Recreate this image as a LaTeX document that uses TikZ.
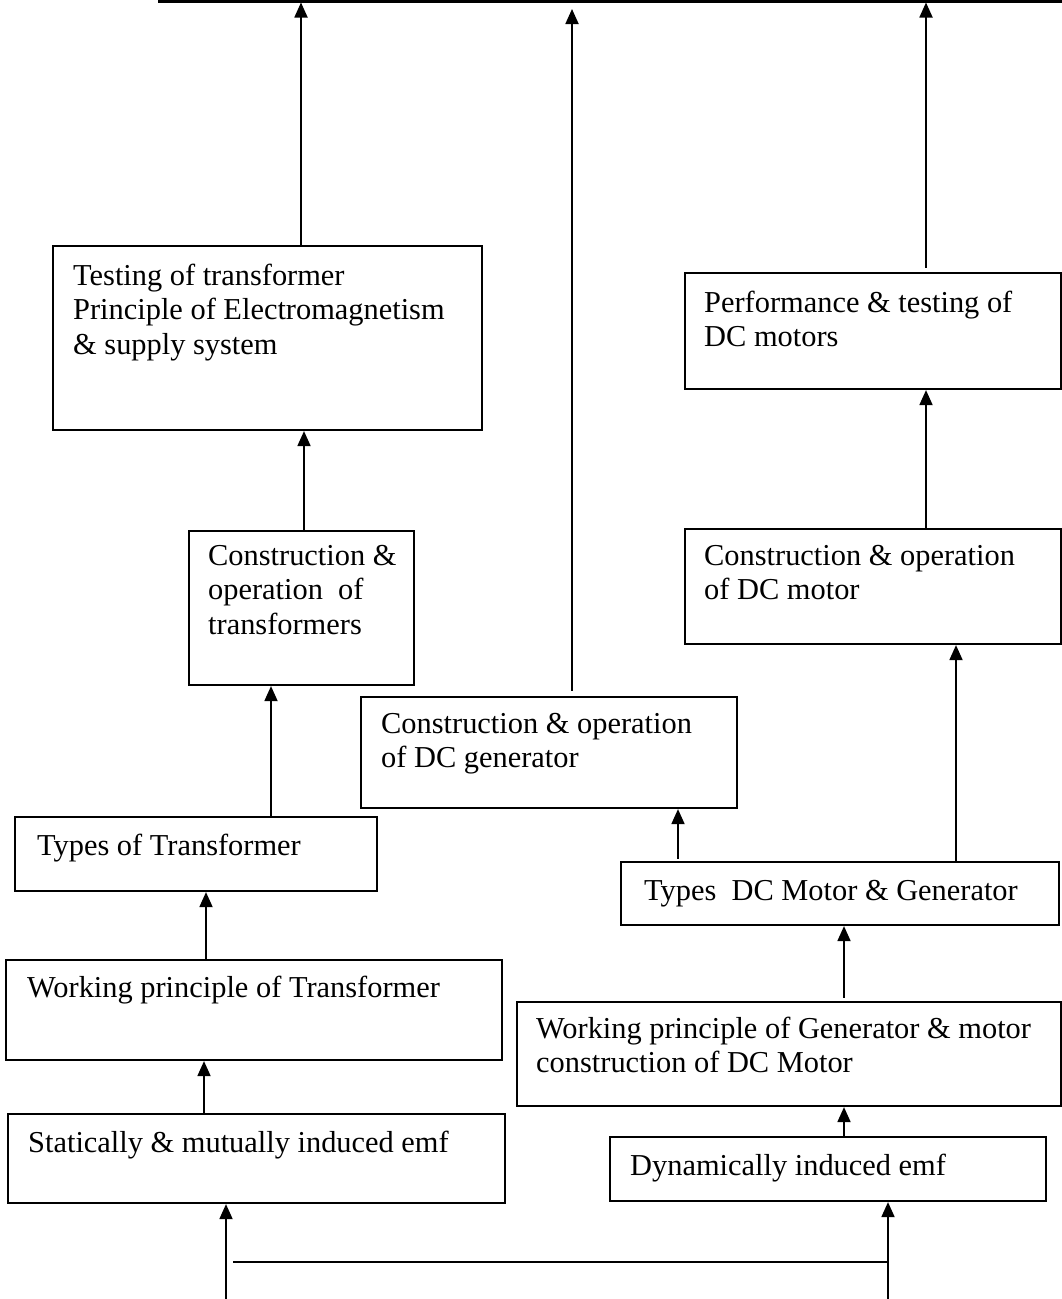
\documentclass[tikz,border=0pt]{standalone}
\usepackage{fontspec}
\setmainfont{Liberation Serif}
\usetikzlibrary{arrows.meta,calc,fit}
\newcommand{\boxlines}[1]{\parbox[t]{600pt}{\raggedright #1}}
\begin{document}
\begin{tikzpicture}[x=1pt,y=-1pt,
  box/.style={draw, line width=2.2pt, rectangle, inner sep=0pt},
  txt/.style={anchor=base west, inner sep=0pt, font=\fontsize{30.4}{34.5}\selectfont},
  arr/.style={line width=1.8pt, -{Triangle[length=15pt,width=13pt]}},
  ln/.style={line width=2.2pt}]
\useasboundingbox (0,0) rectangle (1062,1299);

% boxes
\node[box, fit={(53,246)(482,430)}] (test) {};
\node[txt] (testT) at (73,285) {\boxlines{Testing of transformer\\Principle of Electromagnetism\\\& supply system}};

\node[box, fit={(685,273)(1061,389)}] (perf) {};
\node[txt] (perfT) at (704,312) {\boxlines{Performance \& testing of\\DC motors}};

\node[box, fit={(189,531)(414,685)}] (ctrans) {};
\node[txt] (ctransT) at (208,565) {\boxlines{Construction \&\\operation\ \ of\\transformers}};

\node[box, fit={(685,529)(1061,644)}] (cmot) {};
\node[txt] (cmotT) at (704,565) {\boxlines{Construction \& operation\\of DC motor}};

\node[box, fit={(361,697)(737,808)}] (cgen) {};
\node[txt] (cgenT) at (381,733) {\boxlines{Construction \& operation\\of DC generator}};

\node[box, fit={(621,862)(1059,925)}] (tdc) {};
\node[txt] (tdcT) at (644,900) {\boxlines{Types\ \ DC Motor \& Generator}};

\node[box, fit={(15,817)(377,891)}] (ttrans) {};
\node[txt] (ttransT) at (37,855) {\boxlines{Types of Transformer}};

\node[box, fit={(6,960)(502,1060)}] (wtrans) {};
\node[txt] (wtransT) at (27,997) {\boxlines{Working principle of Transformer}};

\node[box, fit={(517,1002)(1061,1106)}] (wgen) {};
\node[txt] (wgenT) at (536,1038) {\boxlines{Working principle of Generator \& motor\\construction of DC Motor}};

\node[box, fit={(8,1114)(505,1203)}] (stat) {};
\node[txt] (statT) at (28,1152) {\boxlines{Statically \& mutually induced emf}};

\node[box, fit={(610,1137)(1046,1201)}] (dyn) {};
\node[txt] (dynT) at (630,1175) {\boxlines{Dynamically induced emf}};

% top line and arrows into it
\coordinate (tl) at (158,1.2);
\coordinate (tr) at (1062,1.2);
\draw[line width=2.6pt] (tl) -- (tr);
\coordinate (e1) at (301,2.5);
\coordinate (e2) at (572,9);
\coordinate (e3) at (926,2.5);
\draw[arr] (test.north -| e1) -- (e1);
\draw[arr] ($(cgen.north -| e2)+(0,-5)$) -- (e2);
\draw[arr] ($(perf.north -| e3)+(0,-4)$) -- (e3);

% left chain
\coordinate (c1) at (304,0);
\draw[arr] (ctrans.north -| c1) -- (test.south -| c1);
\coordinate (c2) at (271,0);
\draw[arr] (ttrans.north -| c2) -- (ctrans.south -| c2);
\coordinate (c3) at (206,0);
\draw[arr] (wtrans.north -| c3) -- (ttrans.south -| c3);
\coordinate (c4) at (204,0);
\draw[arr] (stat.north -| c4) -- (wtrans.south -| c4);

% right chain
\coordinate (d1) at (844,0);
\draw[arr] (dyn.north -| d1) -- (wgen.south -| d1);
\draw[arr] ($(wgen.north -| d1)+(0,-3)$) -- (tdc.south -| d1);
\coordinate (d2) at (678,0);
\draw[arr] ($(tdc.north -| d2)+(0,-2)$) -- (cgen.south -| d2);
\coordinate (d3) at (956,0);
\draw[arr] (tdc.north -| d3) -- (cmot.south -| d3);
\draw[arr] (cmot.north -| e3) -- (perf.south -| e3);

% bottom inputs
\coordinate (b1) at (226,1299);
\coordinate (b2) at (888,1299);
\draw[arr] (b1) -- (stat.south -| b1);
\draw[arr] (b2) -- (dyn.south -| b2);
\coordinate (h1) at (233,1262);
\draw[ln] (h1) -- (h1 -| b2);
\end{tikzpicture}
\end{document}
